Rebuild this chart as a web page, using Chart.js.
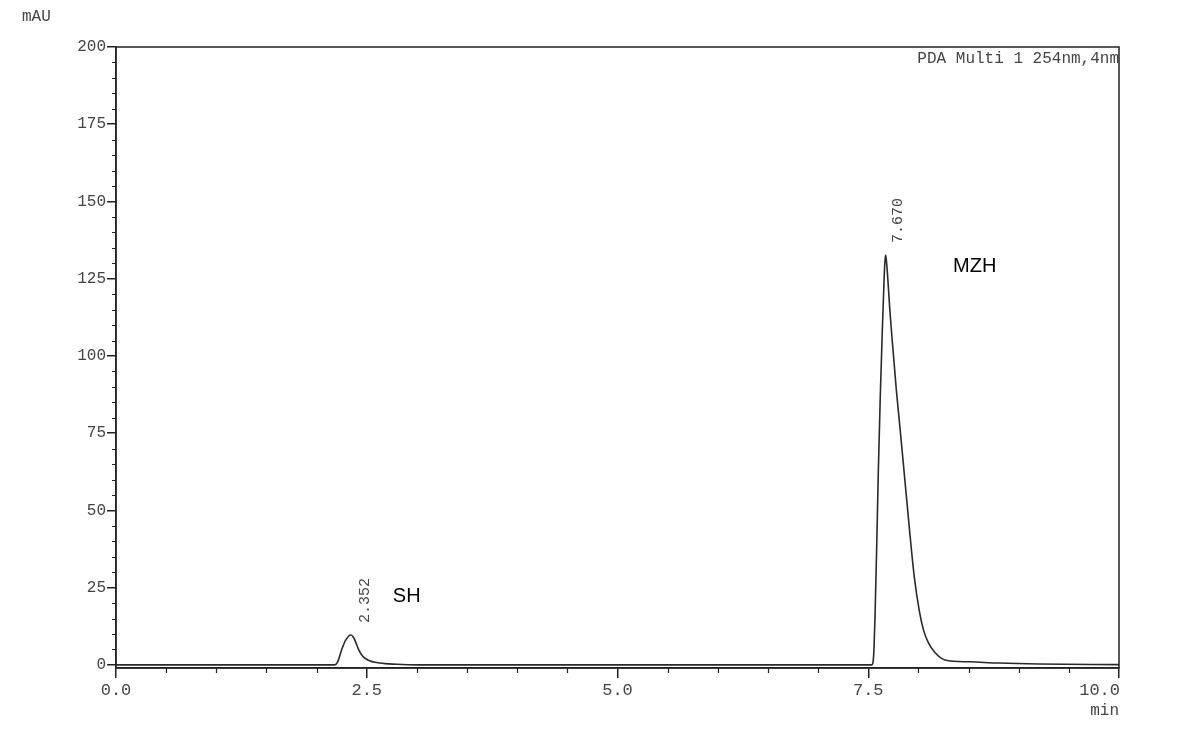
<!DOCTYPE html>
<html>
<head>
<meta charset="utf-8">
<script src="https://cdn.jsdelivr.net/npm/chart.js@4"></script>
<style>
  html, body { margin: 0; padding: 0; background: #fff; }
  #wrap { width: 1184px; height: 747px; position: relative; }
</style>
</head>
<body>
<div id="wrap"><canvas id="chrom"></canvas></div>
<script>
// chromatogram trace (time in min, signal in mAU)
const traceTime = [0, 2.18, 2.21, 2.25, 2.29, 2.339, 2.37, 2.42, 2.46, 2.51, 2.63, 2.8, 3.0,
  7.537, 7.55, 7.557, 7.567, 7.584, 7.60, 7.62, 7.64, 7.655, 7.665, 7.673, 7.682, 7.695, 7.715,
  7.739, 7.78, 7.823, 7.866, 7.909, 7.959, 8.009, 8.049, 8.099, 8.165, 8.265, 8.51, 8.8, 9.2, 10.0];
const traceMAU = [0, 0, 1, 4.9, 8, 9.7, 8.8, 4.9, 2.8, 1.6, 0.6, 0.2, 0,
  0, 1.5, 4.9, 15, 38, 62, 87, 108, 122, 130, 132.7, 130.5, 125, 115,
  105, 89, 74.5, 59.5, 44.5, 28.5, 17.5, 11.5, 7.2, 4, 1.6, 1.0, 0.6, 0.3, 0.1];

// peak retention times and apex heights
const peakTimes = [2.352, 7.670];
const peakApex = [9.7, 132.7];
const peakTexts = ['2.352', '7.670'];

// compound names and where they sit (data units)
const compoundNames = ['SH', 'MZH'];
const compoundTime = [2.76, 8.345];
const compoundMAU = [22, 128.8];

const xTicks = [0, 2.5, 5, 7.5, 10];
const yTicks = [0, 25, 50, 75, 100, 125, 150, 175, 200];
const xMinorStep = 0.5;
const yMinorStep = 5;

const INK = '#222';
const LABEL = '#444';
const MONO = '"Liberation Mono", "DejaVu Sans Mono", monospace';

const points = traceTime.map((t, i) => ({ x: t, y: traceMAU[i] }));

// minor ticks, box, extra labels
const decor = {
  id: 'decor',
  afterDraw(chart) {
    const { ctx, chartArea: a, scales: { x, y } } = chart;
    ctx.save();
    ctx.strokeStyle = INK;
    ctx.lineWidth = 1.5;
    ctx.strokeRect(a.left, a.top, a.right - a.left, a.bottom - a.top);

    ctx.lineWidth = 1.2;
    ctx.beginPath();
    for (let v = 0; v <= 200; v += yMinorStep) {
      if (v % 25 === 0) continue;
      const py = Math.round(y.getPixelForValue(v)) + 0.5;
      ctx.moveTo(a.left - 4, py); ctx.lineTo(a.left, py);
    }
    for (let t = 0; t <= 10; t += xMinorStep) {
      if (Math.abs(t / 2.5 - Math.round(t / 2.5)) < 1e-6) continue;
      const px = Math.round(x.getPixelForValue(t)) + 0.5;
      ctx.moveTo(px, a.bottom); ctx.lineTo(px, a.bottom + 5);
    }
    ctx.stroke();

    ctx.fillStyle = LABEL;
    ctx.font = '16px ' + MONO;
    ctx.textBaseline = 'middle';
    ctx.textAlign = 'left';
    ctx.fillText('mAU', 22, 17);
    ctx.textAlign = 'right';
    ctx.fillText('PDA Multi 1 254nm,4nm', a.right, 59);
    ctx.fillText('min', a.right, 711);
    ctx.font = '17px ' + MONO;
    ctx.fillText('10.0', a.right + 1, 690);

    // retention time labels, rotated
    ctx.font = '15px ' + MONO;
    peakTimes.forEach((t, i) => {
      const px = x.getPixelForValue(t) + 13;
      const py = y.getPixelForValue(peakApex[i]) - 12;
      ctx.save();
      ctx.translate(px, py);
      ctx.rotate(-Math.PI / 2);
      ctx.textAlign = 'left';
      ctx.textBaseline = 'middle';
      ctx.fillText(peakTexts[i], 0, 0);
      ctx.restore();
    });

    ctx.fillStyle = '#000';
    ctx.font = '20px "Liberation Sans", Arial, sans-serif';
    ctx.textAlign = 'left';
    ctx.textBaseline = 'middle';
    compoundNames.forEach((n, i) => {
      ctx.fillText(n, x.getPixelForValue(compoundTime[i]), y.getPixelForValue(compoundMAU[i]));
    });
    ctx.restore();
  }
};

new Chart(document.getElementById('chrom'), {
  type: 'line',
  data: {
    datasets: [{
      data: points,
      borderColor: '#2a2a2a',
      borderWidth: 1.6,
      pointRadius: 0,
      fill: false,
      cubicInterpolationMode: 'monotone'
    }]
  },
  options: {
    responsive: true,
    maintainAspectRatio: false,
    animation: false,
    layout: { padding: { left: 0, top: 47, right: 65, bottom: 0 } },
    plugins: { legend: { display: false }, tooltip: { enabled: false } },
    scales: {
      x: {
        type: 'linear', min: 0, max: 10,
        afterFit: s => { s.height = 79; },
        afterBuildTicks: s => { s.ticks = xTicks.map(v => ({ value: v })); },
        border: { color: INK, width: 1.5 },
        grid: { drawOnChartArea: false, tickLength: 10, color: INK, lineWidth: 1.5 },
        ticks: {
          color: LABEL, font: { family: MONO, size: 17 }, padding: 2, maxRotation: 0,
          callback: v => (v === 10 ? '' : v.toFixed(1))
        }
      },
      y: {
        type: 'linear', min: -1, max: 200,
        afterFit: s => { s.width = 116; },
        afterBuildTicks: s => { s.ticks = yTicks.map(v => ({ value: v })); },
        border: { color: INK, width: 1.5 },
        grid: { drawOnChartArea: false, tickLength: 9, color: INK, lineWidth: 1.5 },
        ticks: { color: LABEL, font: { family: MONO, size: 16 }, padding: 1 }
      }
    }
  },
  plugins: [decor]
});
</script>
</body>
</html>
